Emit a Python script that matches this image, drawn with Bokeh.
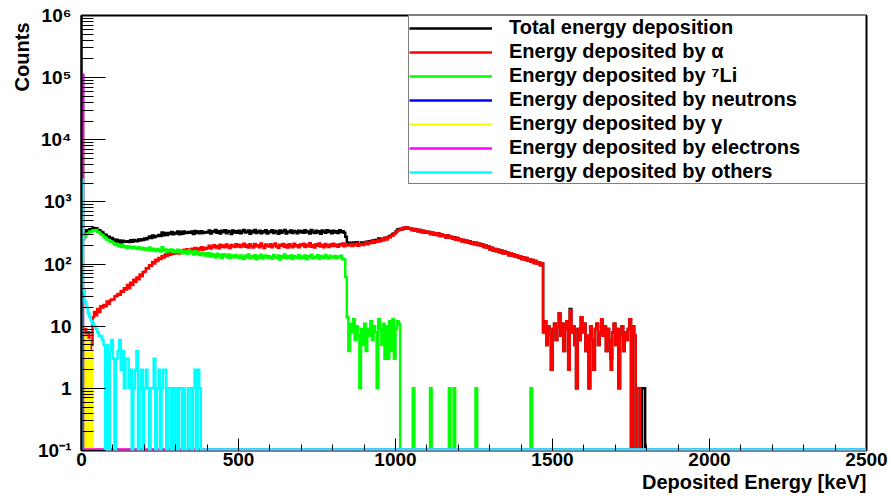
import numpy as np
from bokeh.plotting import figure
from bokeh.models import (Range1d, FixedTicker, CustomJSTickFormatter, Legend,
                          LegendItem, Title)
from bokeh.embed import file_html
from bokeh.resources import INLINE

# ---------------- data (counts per 5 keV bin, first bin starts at 0 keV) ----
BIN_KEV = 5
X_MAX_KEV = 2500

total_counts = [
    110000, 300, 322, 351, 340, 364, 356, 380, 369, 377, 355, 349, 330, 322, 300, 296, 279, 275, 258, 262,
    248, 231, 246, 225, 239, 222, 238, 230, 229, 233, 227, 241, 229, 243, 238, 234, 249, 239, 252, 243,
    258, 252, 263, 278, 262, 287, 270, 281, 284, 295, 282, 322, 291, 316, 295, 317, 306, 328, 302, 320,
    310, 333, 303, 331, 308, 333, 316, 320, 327, 320, 334, 305, 342, 315, 333, 313, 338, 316, 322, 327,
    322, 347, 311, 338, 329, 354, 318, 336, 309, 345, 327, 351, 314, 340, 331, 306, 348, 323, 337, 319,
    343, 312, 336, 355, 321, 330, 347, 308, 339, 326, 352, 317, 334, 345, 313, 338, 324, 349, 310, 333,
    327, 350, 315, 341, 332, 308, 346, 320, 337, 353, 311, 335, 324, 348, 316, 339, 330, 312, 344, 325,
    340, 318, 349, 326, 334, 311, 352, 329, 316, 343, 322, 337, 308, 346, 331, 319, 350, 327, 339, 314,
    345, 323, 338, 317, 351, 329, 336, 318, 275, 223, 209, 221, 208, 222, 213, 225, 206, 211, 222, 209,
    221, 228, 217, 234, 231, 239, 231, 244, 230, 257, 241, 255, 252, 265, 259, 273, 280, 289, 305, 313,
    335, 360, 363, 371, 365, 384, 372, 388, 369, 378, 352, 367, 345, 360, 338, 352, 327, 343, 322, 336,
    318, 329, 306, 326, 300, 312, 295, 310, 283, 298, 284, 291, 268, 289, 267, 274, 258, 269, 247, 262,
    243, 252, 234, 245, 226, 238, 222, 231, 213, 225, 209, 220, 202, 212, 197, 206, 188, 199, 183, 191,
    172, 183, 166, 175, 161, 170, 155, 166, 150, 159, 147, 154, 139, 150, 136, 143, 131, 139, 127, 134,
    121, 129, 117, 125, 113, 120, 110, 116, 104, 112, 101, 107, 96, 102, 8, 12, 5, 10, 7, 2,
    9, 11, 6, 10, 16, 7, 11, 4, 9, 12, 2, 19, 8, 10, 5, 1, 9, 6, 14, 8,
    11, 4, 7, 1, 10, 6, 2, 9, 11, 5, 8, 13, 7, 10, 4, 9, 6, 3, 8, 11,
    5, 9, 1, 7, 10, 4, 8, 6, 9, 13, 0, 10, 7, 0, 1, 1, 0, 1, 1, 0,
]

alpha_counts = [
    0, 0, 9, 6, 8, 4, 5, 14, 17, 15, 19, 17, 21, 20, 22, 21, 25, 23, 26, 27,
    27, 30, 31, 33, 32, 37, 36, 41, 39, 46, 41, 50, 46, 56, 52, 61, 57, 68, 64, 74,
    76, 86, 85, 96, 94, 108, 102, 117, 112, 125, 121, 134, 128, 142, 135, 150, 141, 155, 147, 152,
    150, 163, 148, 166, 157, 170, 155, 173, 161, 168, 176, 160, 181, 167, 178, 172, 186, 170, 183, 177,
    183, 197, 178, 192, 201, 185, 196, 180, 204, 189, 199, 186, 207, 191, 182, 203, 194, 188, 209, 192,
    205, 188, 199, 212, 190, 203, 185, 208, 196, 184, 210, 193, 201, 187, 214, 195, 182, 206, 198, 191,
    208, 186, 200, 215, 192, 183, 205, 197, 211, 189, 202, 184, 209, 196, 187, 213, 194, 201, 186, 207,
    199, 212, 188, 204, 193, 216, 190, 201, 185, 209, 197, 214, 191, 203, 186, 210, 198, 189, 207, 195,
    212, 196, 205, 190, 209, 201, 215, 194, 206, 199, 203, 210, 195, 208, 200, 214, 197, 206, 211, 203,
    210, 224, 208, 227, 219, 233, 221, 236, 229, 244, 232, 250, 241, 262, 249, 270, 268, 285, 292, 310,
    326, 348, 352, 371, 365, 384, 372, 388, 369, 378, 352, 366, 345, 360, 338, 352, 327, 343, 322, 336,
    318, 329, 305, 326, 300, 312, 295, 310, 283, 298, 284, 291, 268, 289, 266, 274, 258, 268, 247, 262,
    243, 252, 234, 245, 226, 238, 222, 231, 213, 225, 209, 219, 202, 212, 197, 206, 188, 199, 183, 191,
    172, 183, 166, 175, 161, 170, 155, 166, 150, 159, 147, 154, 139, 150, 136, 143, 131, 139, 127, 134,
    121, 129, 117, 125, 113, 120, 109, 116, 104, 112, 101, 107, 96, 102, 8, 12, 5, 10, 7, 2,
    9, 11, 6, 10, 16, 7, 11, 4, 9, 12, 2, 18, 8, 10, 5, 1, 9, 6, 14, 8,
    11, 4, 7, 1, 10, 6, 2, 9, 11, 5, 8, 13, 7, 10, 4, 9, 6, 2, 8, 11,
    5, 9, 1, 7, 10, 4, 8, 6, 9, 13, 0, 10, 7, 0, 1, 1, 0, 0, 0, 0,
]

li7_counts = [
    230, 250, 276, 305, 312, 335, 333, 350, 346, 352, 328, 322, 300, 294, 270, 266, 246, 244, 228, 229,
    216, 205, 212, 196, 203, 190, 199, 186, 194, 181, 192, 188, 179, 190, 183, 176, 187, 174, 182, 171,
    180, 168, 175, 184, 166, 177, 170, 162, 174, 167, 159, 186, 165, 172, 158, 169, 163, 171, 157, 166,
    158, 170, 153, 165, 149, 163, 160, 146, 166, 151, 158, 143, 161, 147, 155, 140, 152, 145, 138, 150,
    136, 149, 132, 145, 139, 128, 146, 134, 141, 126, 144, 137, 130, 142, 125, 139, 133, 127, 140, 131,
    125, 138, 129, 121, 136, 130, 142, 124, 133, 127, 139, 120, 135, 128, 141, 123, 132, 137, 126, 134,
    129, 122, 140, 131, 125, 137, 119, 134, 128, 143, 124, 133, 127, 138, 121, 135, 130, 126, 139, 123,
    132, 126, 137, 120, 134, 129, 141, 124, 131, 127, 139, 122, 135, 128, 125, 140, 130, 123, 136, 129,
    127, 135, 124, 132, 129, 136, 121, 118, 62, 14, 4, 11, 8, 13, 6, 10, 7, 1, 9, 5,
    11, 4, 9, 7, 12, 6, 10, 8, 1, 13, 9, 5, 11, 3, 10, 3, 12, 4, 13, 3,
    9, 12, 11,
]
# isolated single-count 7Li bins above the main spectrum (bin start, keV)
li7_single_count_kev = [1055, 1110, 1170, 1185, 1255, 1430]

neutron_counts = []  # nothing recorded

gamma_counts = [25000, 0, 7, 0, 6, 0, 4, 0]

electron_counts = [110000]

others_counts = [
    2300, 38, 25, 20, 16, 14, 12, 11, 10, 9, 8, 7, 7, 6, 5, 0, 5, 0, 4, 6,
    3, 0, 3, 4, 6, 2, 4, 1, 3, 3, 1, 2, 0, 1, 2, 4, 0, 1, 2, 0,
    1, 2, 1, 0, 1, 1, 3, 0, 1, 2, 0, 1, 2, 2, 0, 1, 1, 0, 1, 0,
    1, 0, 1, 1, 0, 1, 0, 0, 1, 1, 0, 1, 2, 0, 2, 1,
]

series_labels = [
    "Total energy deposition",
    "Energy deposited by \u03b1",
    "Energy deposited by \u2077Li",
    "Energy deposited by neutrons",
    "Energy deposited by \u03b3",
    "Energy deposited by electrons",
    "Energy deposited by others",
]
series_colors = ["#000000", "#ff0000", "#00ff00", "#0000ff", "#ffff00", "#ff00ff", "#00ffff"]

x_major_ticks = [0, 500, 1000, 1500, 2000, 2500]
y_major_ticks = [0.1, 1, 10, 100, 1000, 10000, 100000, 1000000]

# ---------------- helpers ---------------------------------------------------
N_BINS = X_MAX_KEV // BIN_KEV
EMPTY_BIN_FLOOR = 0.104  # empty bins drawn along the bottom of the log frame


def full_bins(counts):
    v = np.zeros(N_BINS)
    v[:len(counts)] = counts
    return v


def step_xy(v):
    v = np.where(v > 0, v, EMPTY_BIN_FLOOR)
    edges = np.arange(N_BINS + 1) * BIN_KEV
    xs = np.concatenate([[0], np.repeat(edges, 2)[1:-1]])
    ys = np.concatenate([[EMPTY_BIN_FLOOR], np.repeat(v, 2)])
    return xs, ys


li7_full = full_bins(li7_counts)
for kev in li7_single_count_kev:
    li7_full[kev // BIN_KEV] = 1

series = [
    full_bins(total_counts),
    full_bins(alpha_counts),
    li7_full,
    full_bins(neutron_counts),
    full_bins(gamma_counts),
    full_bins(electron_counts),
    full_bins(others_counts),
]

FONT = "Liberation Sans"

p = figure(width=891, height=498,
           x_range=Range1d(0, X_MAX_KEV), y_range=Range1d(0.1, 1e6),
           y_axis_type="log", output_backend="svg", toolbar_location=None,
           min_border_left=81, min_border_right=25, min_border_top=15,
           min_border_bottom=48)
p.background_fill_color = "white"
p.border_fill_color = "white"
p.outline_line_color = "black"
p.outline_line_width = 2
p.xgrid.grid_line_color = None
p.ygrid.grid_line_color = None

renderers = []
for vals, color in zip(series, series_colors):
    xs, ys = step_xy(vals)
    r = p.line(xs, ys, line_color=color, line_width=2.5, line_join="miter")
    renderers.append(r)

# x axis
xa = p.xaxis[0]
xa.ticker = FixedTicker(ticks=x_major_ticks, minor_ticks=list(range(0, X_MAX_KEV + 1, 100)))
xa.axis_line_color = None
xa.major_tick_in = 12
xa.major_tick_out = 0
xa.minor_tick_in = 6
xa.minor_tick_out = 0
xa.major_tick_line_color = "black"
xa.minor_tick_line_color = "black"
xa.major_label_standoff = 2
xa.major_label_text_font = FONT
xa.major_label_text_font_style = "bold"
xa.major_label_text_font_size = "19px"
xa.major_label_text_color = "black"

# y axis
ya = p.yaxis[0]
ya.ticker = FixedTicker(ticks=y_major_ticks,
                        minor_ticks=[m * 10.0 ** k for k in range(-1, 6) for m in range(2, 10)])
ya.axis_line_color = "black"
ya.axis_line_width = 2
ya.major_tick_in = 24
ya.major_tick_out = 0
ya.minor_tick_in = 12
ya.minor_tick_out = 0
ya.major_tick_line_color = "black"
ya.minor_tick_line_color = "black"
ya.major_label_standoff = 10
ya.major_label_text_font = FONT
ya.major_label_text_font_style = "bold"
ya.major_label_text_font_size = "19px"
ya.major_label_text_color = "black"
ya.formatter = CustomJSTickFormatter(code="""
const e = Math.round(Math.log10(tick));
if (e === 0) { return "1"; }
if (e === 1) { return "10"; }
const sup = {"-": "\u207b", "0": "\u2070", "1": "\u00b9", "2": "\u00b2", "3": "\u00b3",
             "4": "\u2074", "5": "\u2075", "6": "\u2076", "7": "\u2077", "8": "\u2078", "9": "\u2079"};
return "10" + String(e).split("").map(c => sup[c]).join("");
""")

# axis titles (ROOT style: at the far end of each axis)
x_title = Title(text="Deposited Energy [keV]", align="right", standoff=0, offset=0,
                text_font=FONT, text_font_style="bold", text_font_size="20px",
                text_color="black")
y_title = Title(text="Counts", align="right", standoff=6, offset=7,
                text_font=FONT, text_font_style="bold", text_font_size="20px",
                text_color="black")
p.add_layout(x_title, "below")
p.add_layout(y_title, "left")

legend = Legend(
    items=[LegendItem(label=lab, renderers=[r]) for lab, r in zip(series_labels, renderers)],
    location="top_right", margin=0, padding=0, spacing=1,
    label_height=22, glyph_height=22, glyph_width=83, label_standoff=17,
    label_width=356,
    label_text_font=FONT, label_text_font_style="bold", label_text_font_size="20px",
    label_text_color="black",
    border_line_color="black", border_line_width=1.5,
    background_fill_color="white", background_fill_alpha=1.0,
)
p.add_layout(legend)

open("out.html", "w").write(file_html(p, INLINE))
